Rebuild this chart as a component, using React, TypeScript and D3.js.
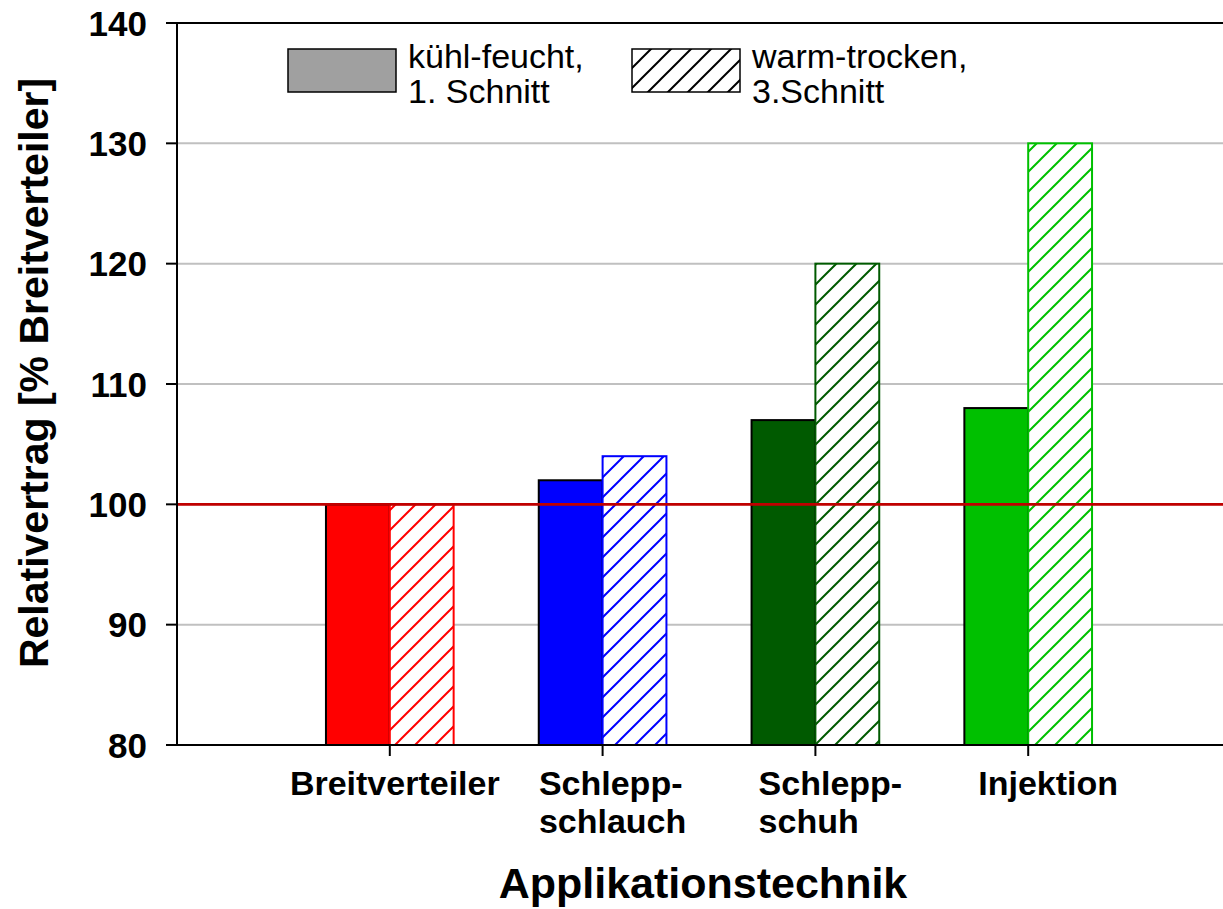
import React, { useEffect, useRef } from "react";
import * as d3 from "d3";

const categoryLabelLines: string[][] = [
  ["Breitverteiler"],
  ["Schlepp-", "schlauch"],
  ["Schlepp-", "schuh"],
  ["Injektion"],
];
const kuehlFeucht = [100, 102, 107, 108];
const warmTrocken = [100, 104, 120, 130];
const barColors = ["#ff0000", "#0000ff", "#005a00", "#00c000"];
const yTicks = [80, 90, 100, 110, 120, 130, 140];
const referenceValue = 100;
const legendLines = [
  ["kühl-feucht,", "1. Schnitt"],
  ["warm-trocken,", "3.Schnitt"],
];
const yTitle = "Relativertrag [% Breitverteiler]";
const xTitle = "Applikationstechnik";

const W = 1223;
const H = 909;
const FONT = "'Liberation Sans', Arial, sans-serif";

export default function App() {
  const ref = useRef<SVGSVGElement | null>(null);

  useEffect(() => {
    const svg = d3.select(ref.current);
    svg.selectAll("*").remove();

    const left = 177;
    const top = 23;
    const bottom = 745;
    const y = d3.scaleLinear().domain([80, 140]).range([bottom, top]);
    const x = d3.scaleLinear().domain([0, 5]).range([left, 1241]);
    const xLabel = d3.scaleLinear().domain([0, 5]).range([left, 1266]);
    const step = x(1) - x(0);
    const bw = step * 0.3;

    const defs = svg.append("defs");
    const makeHatch = (id: string, color: string) => {
      const p = defs
        .append("pattern")
        .attr("id", id)
        .attr("patternUnits", "userSpaceOnUse")
        .attr("width", 20)
        .attr("height", 20);
      p.append("rect").attr("width", 20).attr("height", 20).attr("fill", "#fff");
      p.append("path")
        .attr("d", "M0,20 L20,0 M-5,5 L5,-5 M15,25 L25,15")
        .attr("stroke", color)
        .attr("stroke-width", 2)
        .attr("fill", "none");
    };
    barColors.forEach((c, i) => makeHatch(`hatch-${i}`, c));
    makeHatch("hatch-legend", "#000");

    // gridlines
    svg
      .append("g")
      .selectAll("line")
      .data(yTicks.filter((t) => t !== 80 && t !== 140))
      .join("line")
      .attr("x1", left)
      .attr("x2", W)
      .attr("y1", (d) => y(d))
      .attr("y2", (d) => y(d))
      .attr("stroke", "#c0c0c0")
      .attr("stroke-width", 2);

    // top frame line
    svg
      .append("line")
      .attr("x1", left - 11)
      .attr("x2", W)
      .attr("y1", y(140))
      .attr("y2", y(140))
      .attr("stroke", "#000")
      .attr("stroke-width", 2);

    const idx = d3.range(kuehlFeucht.length);

    // filled bars
    svg
      .append("g")
      .selectAll("rect")
      .data(idx)
      .join("rect")
      .attr("x", (i) => x(i + 1) - bw)
      .attr("width", bw)
      .attr("y", (i) => y(kuehlFeucht[i]))
      .attr("height", (i) => y(80) - y(kuehlFeucht[i]))
      .attr("fill", (i) => barColors[i])
      .attr("stroke", "#000")
      .attr("stroke-width", 2);

    // hatched bars
    svg
      .append("g")
      .selectAll("rect")
      .data(idx)
      .join("rect")
      .attr("x", (i) => x(i + 1))
      .attr("width", bw)
      .attr("y", (i) => y(warmTrocken[i]))
      .attr("height", (i) => y(80) - y(warmTrocken[i]))
      .attr("fill", (i) => `url(#hatch-${i})`)
      .attr("stroke", (i) => barColors[i])
      .attr("stroke-width", 2);

    // reference line
    svg
      .append("line")
      .attr("x1", left)
      .attr("x2", W)
      .attr("y1", y(referenceValue))
      .attr("y2", y(referenceValue))
      .attr("stroke", "#c00000")
      .attr("stroke-width", 2.8);

    // y axis
    svg
      .append("line")
      .attr("x1", left)
      .attr("x2", left)
      .attr("y1", top)
      .attr("y2", bottom)
      .attr("stroke", "#000")
      .attr("stroke-width", 2);
    const yt = svg.append("g").selectAll("g").data(yTicks).join("g");
    yt.append("line")
      .attr("x1", left - 11)
      .attr("x2", left)
      .attr("y1", (d) => y(d))
      .attr("y2", (d) => y(d))
      .attr("stroke", "#000")
      .attr("stroke-width", 2);
    yt.append("text")
      .attr("x", 147)
      .attr("y", (d) => y(d))
      .attr("dy", "0.36em")
      .attr("text-anchor", "end")
      .attr("font-family", FONT)
      .attr("font-weight", "bold")
      .attr("font-size", 35)
      .text((d) => d);

    // x axis
    svg
      .append("line")
      .attr("x1", left - 11)
      .attr("x2", W)
      .attr("y1", bottom)
      .attr("y2", bottom)
      .attr("stroke", "#000")
      .attr("stroke-width", 2);
    svg
      .append("g")
      .selectAll("line")
      .data(idx)
      .join("line")
      .attr("x1", (i) => x(i + 1))
      .attr("x2", (i) => x(i + 1))
      .attr("y1", bottom)
      .attr("y2", bottom + 11)
      .attr("stroke", "#000")
      .attr("stroke-width", 2);

    // category labels: left-aligned block centred on label position
    idx.forEach((i) => {
      const g = svg.append("g");
      const t = g
        .append("text")
        .attr("font-family", FONT)
        .attr("font-weight", "bold")
        .attr("font-size", 34);
      categoryLabelLines[i].forEach((line, k) => {
        t.append("tspan").attr("x", 0).attr("y", 795 + k * 38).text(line);
      });
      const bb = (t.node() as SVGTextElement).getBBox();
      g.attr("transform", `translate(${xLabel(i + 1) - bb.width / 2},0)`);
    });

    // axis titles
    svg
      .append("text")
      .attr("x", 703)
      .attr("y", 898)
      .attr("text-anchor", "middle")
      .attr("font-family", FONT)
      .attr("font-weight", "bold")
      .attr("font-size", 43)
      .text(xTitle);
    svg
      .append("text")
      .attr("transform", `translate(48,373) rotate(-90)`)
      .attr("text-anchor", "middle")
      .attr("font-family", FONT)
      .attr("font-weight", "bold")
      .attr("font-size", 41)
      .text(yTitle);

    // legend
    const legendX = [288, 632];
    legendLines.forEach((lines, k) => {
      svg
        .append("rect")
        .attr("x", legendX[k])
        .attr("y", 49)
        .attr("width", 108)
        .attr("height", 43)
        .attr("fill", k === 0 ? "#a0a0a0" : "url(#hatch-legend)")
        .attr("stroke", "#000")
        .attr("stroke-width", 1.5);
      const t = svg
        .append("text")
        .attr("font-family", FONT)
        .attr("font-size", 34);
      lines.forEach((line, j) => {
        t.append("tspan")
          .attr("x", legendX[k] + 120)
          .attr("y", 68 + j * 35)
          .text(line);
      });
    });
  }, []);

  return (
    <svg
      ref={ref}
      width={W}
      height={H}
      style={{ position: "absolute", left: 0, top: 0, background: "#fff" }}
    />
  );
}
